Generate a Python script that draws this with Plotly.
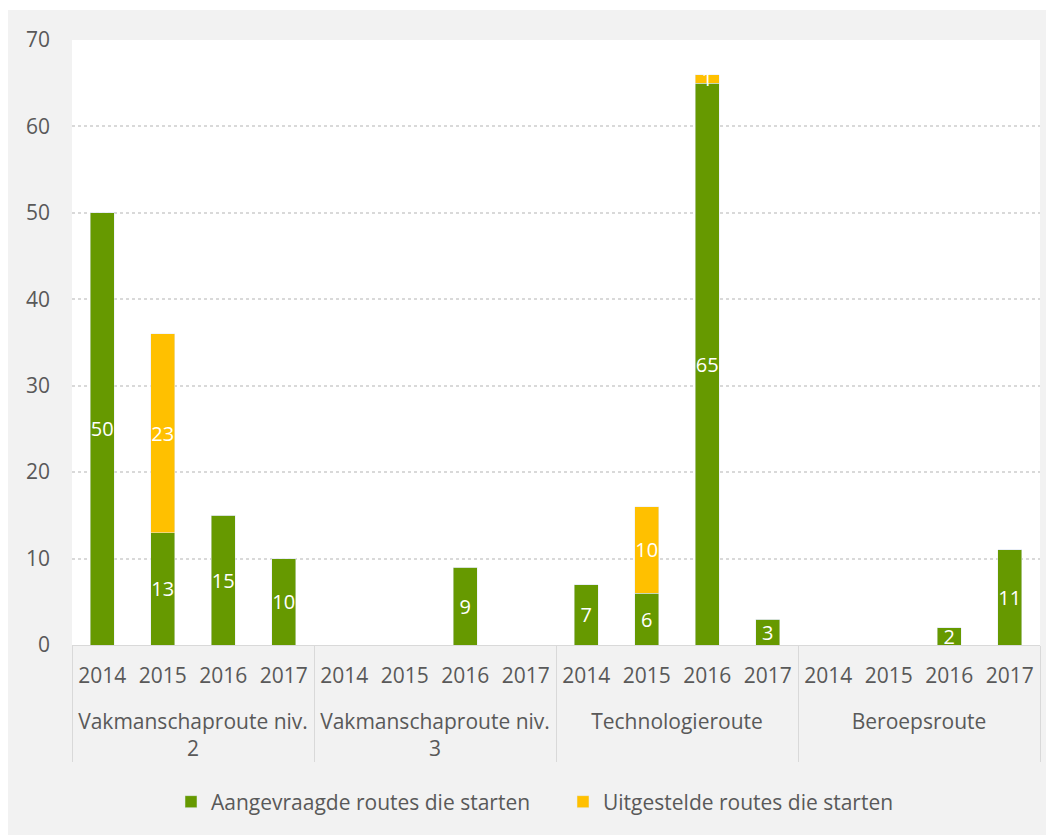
import plotly.graph_objects as go

groups = ["Vakmanschaproute niv.<br>2", "Vakmanschaproute niv.<br>3", "Technologieroute", "Beroepsroute"]
years = ["2014", "2015", "2016", "2017"]

aangevraagd = [50, 13, 15, 10,
               0, 0, 9, 0,
               7, 6, 65, 3,
               0, 0, 2, 11]
uitgesteld = [0, 23, 0, 0,
              0, 0, 0, 0,
              0, 10, 1, 0,
              0, 0, 0, 0]

# leading break pushes the group level further below the year level
x_groups = ["<br>" + g for g in groups for _ in years]
x_years = [y for _ in groups for y in years]

FONT = "Open Sans"
GREY = "#595959"

def lbl(vals):
    return [str(v) if v else "" for v in vals]

fig = go.Figure()
fig.add_trace(go.Bar(
    x=[x_groups, x_years], y=aangevraagd, name="Aangevraagde routes die starten",
    marker=dict(color="#669900"), text=lbl(aangevraagd), textposition="inside",
    insidetextanchor="middle", constraintext="none", textangle=0,
    textfont=dict(color="white", size=20, family=FONT),
))
fig.add_trace(go.Bar(
    x=[x_groups, x_years], y=uitgesteld, name="Uitgestelde routes die starten",
    marker=dict(color="#ffc000"), text=lbl(uitgesteld), textposition="inside",
    insidetextanchor="middle", constraintext="none", textangle=0,
    textfont=dict(color="white", size=20, family=FONT),
))

# figure geometry (pixels, figure is placed at an 8px page offset)
W, H = 1046, 827
L, R, T, B = 64, 14, 32, 190
pw, ph = W - L - R, H - T - B

def py(y):
    return (H - B - y) / ph

shapes = [
    dict(type="rect", xref="paper", yref="paper", layer="below",
         x0=-L / pw - 0.01, x1=1 + R / pw + 0.01, y0=py(2), y1=py(-2),
         fillcolor="white", line=dict(width=0)),
]

fig.update_layout(
    width=W, height=H,
    margin=dict(l=L, r=R, t=T, b=B),
    paper_bgcolor="#f2f2f2", plot_bgcolor="white",
    barmode="stack", bargap=0.6,
    font=dict(family=FONT, size=21, color=GREY),
    shapes=shapes,
    showlegend=True,
    legend=dict(orientation="h", x=(183 - 64 - 20) / pw, xanchor="left", y=py(794), yanchor="middle",
                font=dict(size=21, color=GREY), traceorder="normal",
                itemwidth=30, entrywidth=347, entrywidthmode="pixels",
                bgcolor="rgba(0,0,0,0)"),
    xaxis=dict(type="multicategory", showline=True, linecolor="#d9d9d9", linewidth=1,
               showdividers=True, dividercolor="#d9d9d9", dividerwidth=1,
               tickfont=dict(size=21, color=GREY, family=FONT), ticks="",
               ticklabelstandoff=12),
    yaxis=dict(range=[0, 70], dtick=10, showgrid=True, gridcolor="#d9d9d9",
               griddash="dot", gridwidth=1.5, zeroline=False, showline=False,
               tickfont=dict(size=21, color=GREY, family=FONT), ticks="",
               ticklabelstandoff=21),
)

fig.write_html("out.html")
